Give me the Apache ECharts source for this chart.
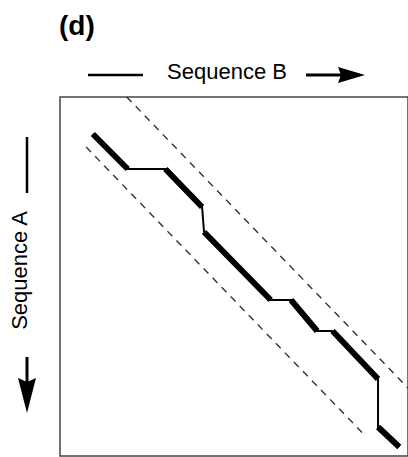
<!DOCTYPE html>
<html>
<head>
<meta charset="utf-8">
<style>html,body{margin:0;padding:0;background:#fff;}#c{width:408px;height:457px;}</style>
<script src="https://cdn.jsdelivr.net/npm/echarts@6/dist/echarts.min.js"></script>
</head>
<body>
<div id="c"></div>
<script>
// Alignment path (position in Sequence B, position in Sequence A)
var pathB = [34, 70, 109, 147, 149, 218, 239, 266, 282, 329, 329, 351];
var pathA = [37, 72, 72, 110, 135, 203, 203, 234, 234, 282, 330, 350];
// which segments are matched (thick) diagonals: segment i goes from point i to i+1
var segMatched = [true, false, true, false, true, false, true, false, true, false, true];
// band limits (dashed diagonals)
var upperB = [69, 360];
var upperA = [0, 291];
var lowerB = [27, 316];
var lowerA = [50, 339];
var titleText = '(d)';
var xName = 'Sequence B';
var yName = 'Sequence A';

var thinData = pathB.map(function (b, i) { return [b, pathA[i]]; });
var thickData = [];
for (var i = 0; i < segMatched.length; i++) {
  if (segMatched[i]) {
    thickData.push([pathB[i], pathA[i]]);
    thickData.push([pathB[i + 1], pathA[i + 1]]);
    thickData.push([null, null]);
  }
}
var upperData = upperB.map(function (b, i) { return [b, upperA[i]]; });
var lowerData = lowerB.map(function (b, i) { return [b, lowerA[i]]; });

var chart = echarts.init(document.getElementById('c'), null, { renderer: 'svg' });
var font = 'Liberation Sans, Arial, Helvetica, sans-serif';
chart.setOption({
  animation: false,
  backgroundColor: '#fff',
  title: {
    text: titleText, left: 54, top: 6,
    textStyle: { fontFamily: font, fontWeight: 'bold', fontSize: 28, color: '#000' }
  },
  grid: {
    left: 56, top: 97, right: -8, bottom: 1,
    show: true, borderColor: '#444', borderWidth: 1.5, backgroundColor: '#fff'
  },
  xAxis: {
    type: 'value', min: 0, max: 360, position: 'top',
    axisLine: { show: false }, axisTick: { show: false }, axisLabel: { show: false }, splitLine: { show: false },
    name: xName, nameLocation: 'middle', nameGap: 15,
    nameTextStyle: { fontFamily: font, fontSize: 22, color: '#000', padding: [0, 14, 0, 0] }
  },
  yAxis: {
    type: 'value', min: 0, max: 359, inverse: true,
    axisLine: { show: false }, axisTick: { show: false }, axisLabel: { show: false }, splitLine: { show: false },
    name: yName, nameLocation: 'middle', nameGap: 30, nameRotate: 90,
    nameTextStyle: { fontFamily: font, fontSize: 22, color: '#000', padding: [0, 0, 0, 12] }
  },
  series: [
    { type: 'line', data: upperData, symbol: 'none', silent: true,
      lineStyle: { color: '#333', width: 1.4, type: [7, 6] } },
    { type: 'line', data: lowerData, symbol: 'none', silent: true,
      lineStyle: { color: '#333', width: 1.4, type: [7, 6] } },
    { type: 'line', data: thinData, symbol: 'none', silent: true,
      lineStyle: { color: '#000', width: 2 } },
    { type: 'line', data: thickData, symbol: 'none', silent: true, connectNulls: false,
      lineStyle: { color: '#000', width: 6, cap: 'butt', join: 'miter' } }
  ],
  graphic: [
    { type: 'line', shape: { x1: 88, y1: 75, x2: 143, y2: 75 }, style: { stroke: '#000', lineWidth: 2.5 } },
    { type: 'line', shape: { x1: 306, y1: 75, x2: 342, y2: 75 }, style: { stroke: '#000', lineWidth: 3 } },
    { type: 'polygon', shape: { points: [[338, 67], [365, 75], [338, 83], [341, 75]] }, style: { fill: '#000' } },
    { type: 'line', shape: { x1: 27, y1: 137, x2: 27, y2: 193 }, style: { stroke: '#000', lineWidth: 2.5 } },
    { type: 'line', shape: { x1: 27, y1: 357, x2: 27, y2: 385 }, style: { stroke: '#000', lineWidth: 3 } },
    { type: 'polygon', shape: { points: [[18, 378], [27, 413], [36, 378], [27, 382]] }, style: { fill: '#000' } }
  ]
});
</script>
</body>
</html>
